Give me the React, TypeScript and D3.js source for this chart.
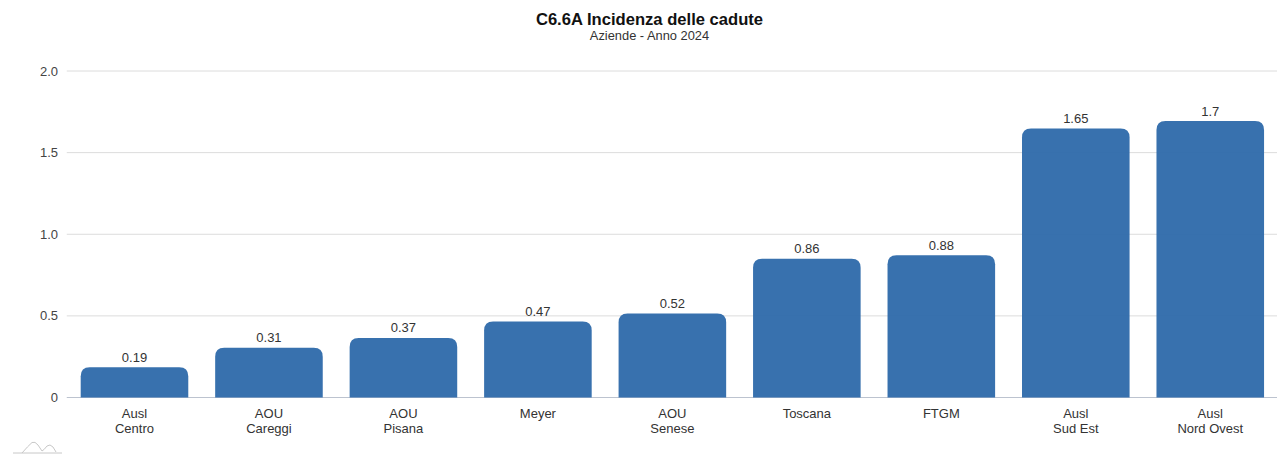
import React from "react";
import * as d3 from "d3";

const categories = ["Ausl\nCentro", "AOU\nCareggi", "AOU\nPisana", "Meyer", "AOU\nSenese", "Toscana", "FTGM", "Ausl\nSud Est", "Ausl\nNord Ovest"];
const valueLabels = ["0.19", "0.31", "0.37", "0.47", "0.52", "0.86", "0.88", "1.65", "1.7"];
const values = [0.185, 0.305, 0.365, 0.465, 0.515, 0.85, 0.872, 1.648, 1.693];
const yTicks = [0, 0.5, 1, 1.5, 2];
const yLabels = ["0", "0.5", "1.0", "1.5", "2.0"];
const titleText = "C6.6A Incidenza delle cadute";
const subtitleText = "Aziende - Anno 2024";

const W = 1277, H = 454;
const FONT = "'Liberation Sans', Arial, sans-serif";

function topRoundedBar(x: number, y: number, w: number, h: number, r: number) {
  const rr = Math.min(r, h);
  return `M${x},${y + h}V${y + rr}Q${x},${y} ${x + rr},${y}H${x + w - rr}Q${x + w},${y} ${x + w},${y + rr}V${y + h}Z`;
}

export default function App() {
  const x = d3.scaleBand<string>().domain(categories).range([67.25, 1277.5]).paddingInner(0.2).paddingOuter(0.1);
  const y = d3.scaleLinear().domain([0, 2]).range([397.5, 71]);
  return (
    <svg width={W} height={H} viewBox={`0 0 ${W} ${H}`} style={{ position: "absolute", left: 0, top: 0, background: "#fff" }} fontFamily={FONT}>
      <text x={649.5} y={25} textAnchor="middle" fontSize={16.6} fontWeight="bold" fill="#111">{titleText}</text>
      <text x={649.5} y={40} textAnchor="middle" fontSize={12.85} fill="#333">{subtitleText}</text>
      {yTicks.map((t, i) => (
        <g key={t}>
          <line x1={66.75} x2={1277} y1={y(t)} y2={y(t)} stroke={t === 0 ? "#bcc3cf" : "#dcdcdc"} strokeWidth={1} />
          <text x={58} y={y(t) + 4.5} textAnchor="end" fontSize={13} fill="#444">{yLabels[i]}</text>
        </g>
      ))}
      {categories.map((c, i) => {
        const bx = x(c)!;
        const bw = x.bandwidth();
        const top = y(values[i]);
        const cx = bx + bw / 2;
        return (
          <g key={c}>
            <path d={topRoundedBar(bx, top, bw, y(0) - top, 9)} fill="#2d69aa" fillOpacity={0.95} />
            <text x={cx} y={top - 5.5} textAnchor="middle" fontSize={13} fill="#333">{valueLabels[i]}</text>
            {c.split("\n").map((l, j) => (
              <text key={j} x={cx} y={417.5 + j * 15} textAnchor="middle" fontSize={13} fill="#333">{l}</text>
            ))}
          </g>
        );
      })}
      <g fill="none" stroke="#c8c8c8" strokeWidth={1}>
        <path d="M13,453H62" />
        <path d="M22,453 Q28,446 32,442.5 Q35,441 38,445 L42,451 Q44,450 47,446 Q50,443.5 53,447 L56,452" />
      </g>
    </svg>
  );
}
